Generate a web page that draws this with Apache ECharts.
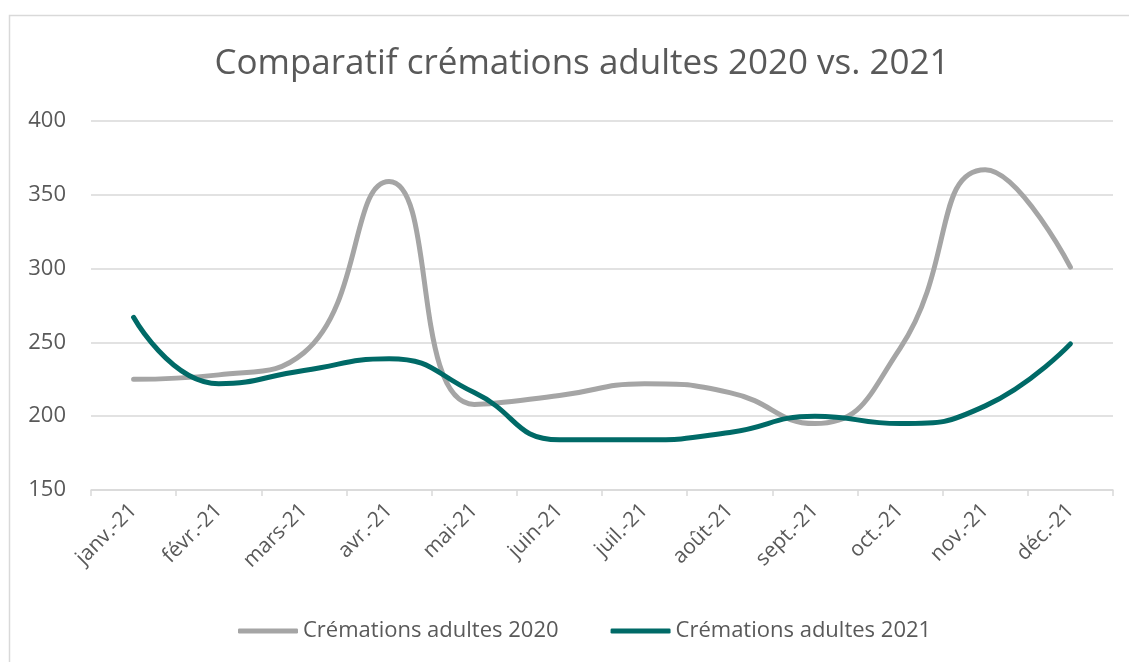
<!DOCTYPE html>
<html>
<head>
<meta charset="utf-8">
<script src="https://cdn.jsdelivr.net/npm/echarts@6/dist/echarts.min.js"></script>
<style>
  html, body { margin: 0; padding: 0; background: #fff; }
  #chart { width: 1129px; height: 662px; }
</style>
</head>
<body>
<div id="chart"></div>
<script>
// valeurs
var mois = ['janv.-21', 'févr.-21', 'mars-21', 'avr.-21', 'mai-21', 'juin-21',
            'juil.-21', 'août-21', 'sept.-21', 'oct.-21', 'nov.-21', 'déc.-21'];
var crem2020 = [225, 228, 243, 359, 208, 214, 222, 216, 195, 246, 367, 301];
var crem2021 = [267, 222, 231, 239, 216, 184, 184, 189, 200, 195, 207, 249];
var nom2020 = 'Crémations adultes 2020';
var nom2021 = 'Crémations adultes 2021';

var police = '"Open Sans", "Noto Sans", sans-serif';
var gris = '#A5A5A5', sarcelle = '#006A67', texte = '#595959';

var chart = echarts.init(document.getElementById('chart'), null, {renderer: 'canvas'});
chart.setOption({
  animation: false,
  backgroundColor: '#fff',
  graphic: [{
    type: 'rect',
    shape: {x: 9.5, y: 15.5, width: 1200, height: 700},
    style: {fill: 'none', stroke: '#D9D9D9', lineWidth: 1.5},
    silent: true
  }],
  title: {
    text: 'Comparatif crémations adultes 2020 vs. 2021',
    left: 577, top: 42, textAlign: 'center',
    textStyle: {fontFamily: police, fontSize: 35, fontWeight: 'normal', color: texte}
  },
  grid: {left: 91, right: 16, top: 121, bottom: 172, containLabel: false},
  legend: {
    data: [nom2020, nom2021],
    bottom: 15, left: 233,
    icon: 'roundRect', itemWidth: 60, itemHeight: 5, itemGap: 52,
    textStyle: {fontFamily: police, fontSize: 22, color: texte}
  },
  xAxis: {
    type: 'category',
    data: mois,
    boundaryGap: true,
    axisLine: {lineStyle: {color: '#D9D9D9', width: 1.5}},
    axisTick: {show: true, length: 6, lineStyle: {color: '#D9D9D9', width: 1.5}},
    axisLabel: {rotate: 45, margin: 17, fontFamily: police, fontSize: 21, color: texte, interval: 0}
  },
  yAxis: {
    type: 'value',
    min: 150, max: 400, interval: 50,
    axisLine: {show: false},
    axisTick: {show: false},
    splitLine: {lineStyle: {color: '#D9D9D9', width: 1.5}},
    axisLabel: {margin: 25, fontFamily: police, fontSize: 22, color: texte}
  },
  series: [{
    name: nom2020,
    type: 'line',
    data: crem2020,
    smooth: 0.5,
    symbol: 'none',
    color: gris,
    lineStyle: {color: gris, width: 5, cap: 'round', join: 'round'}
  }, {
    name: nom2021,
    type: 'line',
    data: crem2021,
    smooth: 0.5,
    symbol: 'none',
    color: sarcelle,
    lineStyle: {color: sarcelle, width: 5, cap: 'round', join: 'round'}
  }]
});
</script>
</body>
</html>
